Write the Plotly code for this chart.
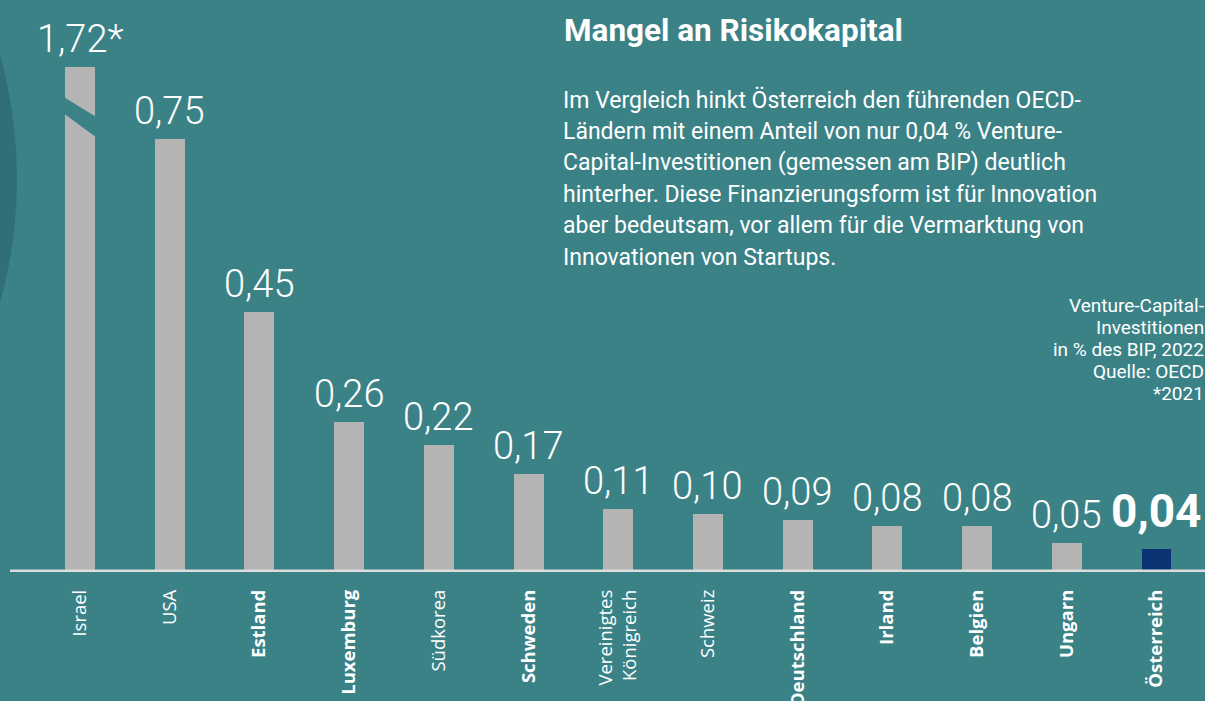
import plotly.graph_objects as go

# ---- data ----
countries = ["Israel", "USA", "Estland", "Luxemburg", "Südkorea", "Schweden",
             "Vereinigtes Königreich", "Schweiz", "Deutschland", "Irland",
             "Belgien", "Ungarn", "Österreich"]
tick_labels = ["Israel", "USA", "<b>Estland</b>", "<b>Luxemburg</b>", "Südkorea",
               "<b>Schweden</b>", "Vereinigtes<br>Königreich", "Schweiz",
               "<b>Deutschland</b>", "<b>Irland</b>", "<b>Belgien</b>",
               "<b>Ungarn</b>", "<b>Österreich</b>"]
values = [1.72, 0.75, 0.45, 0.26, 0.22, 0.17, 0.11, 0.10, 0.09, 0.08, 0.08, 0.05, 0.04]
value_labels = ["1,72*", "0,75", "0,45", "0,26", "0,22", "0,17", "0,11", "0,10",
                "0,09", "0,08", "0,08", "0,05", "0,04"]
highlight = "Österreich"

title_text = "Mangel an Risikokapital"
body_lines = [
    "Im Vergleich hinkt Österreich den führenden OECD-",
    "Ländern mit einem Anteil von nur 0,04 % Venture-",
    "Capital-Investitionen (gemessen am BIP) deutlich",
    "hinterher. Diese Finanzierungsform ist für Innovation",
    "aber bedeutsam, vor allem für die Vermarktung von",
    "Innovationen von Startups.",
]
note_lines = ["Venture-Capital-", "Investitionen", "in % des BIP, 2022",
              "Quelle: OECD", "*2021"]

# ---- style / layout constants ----
W, H = 1205, 701
PLOT_BOTTOM_PX = 572
PX_PER_UNIT = 577.0
AXIS_CAP = 0.875           # broken-axis cap for the outlier bar
BG = "#3b8287"
CIRCLE = "#306f75"
BAR_GREY = "#b4b4b4"
BAR_HI = "#0b3272"
BASE = "#dcdcdc"
BAR_WIDTH = 0.334

display_vals = [min(v, AXIS_CAP) for v in values]
colors = [BAR_HI if c == highlight else BAR_GREY for c in countries]
idx = list(range(len(countries)))

fig = go.Figure()
fig.add_trace(go.Bar(
    x=idx, y=display_vals, marker=dict(color=colors, line=dict(width=0)),
    width=BAR_WIDTH, hoverinfo="skip", showlegend=False,
))

# value labels
annotations = []
for i, (c, v, lab) in enumerate(zip(countries, display_vals, value_labels)):
    if c == highlight:
        annotations.append(dict(x=i, y=v, xref="x", yref="y", text="<b>" + lab + "</b>",
                                showarrow=False, yanchor="bottom", yshift=9,
                                font=dict(family="Roboto", size=46, color="white")))
    else:
        annotations.append(dict(x=i, y=v, xref="x", yref="y", text=lab,
                                showarrow=False, yanchor="bottom", yshift=4,
                                font=dict(family="Roboto", size=38, color="white", weight=300)))

def py(p):
    return 1 - p / PLOT_BOTTOM_PX

# title + body text
annotations.append(dict(x=562 / W, y=py(31), xref="paper", yref="paper",
                        text="<b>" + title_text + "</b>", showarrow=False,
                        xanchor="left", yanchor="middle",
                        font=dict(family="Roboto", size=31.5, color="white")))
for k, line in enumerate(body_lines):
    annotations.append(dict(x=561 / W, y=py(100 + 31.4 * k), xref="paper", yref="paper",
                            text=line, showarrow=False, xanchor="left", yanchor="middle",
                            font=dict(family="Roboto", size=23, color="white")))
for k, line in enumerate(note_lines):
    annotations.append(dict(x=1205 / W, y=py(305 + 22 * k), xref="paper", yref="paper",
                            text=line, showarrow=False, xanchor="right", yanchor="middle",
                            align="right", borderpad=0,
                            font=dict(family="Roboto", size=19, color="white")))

# shapes: background circle, axis break, baseline
hw = BAR_WIDTH / 2
i0 = countries.index("Israel")
brk_top_l, brk_bot_l = 0.823, 0.794
brk_top_r, brk_bot_r = 0.789, 0.754
shapes = [
    dict(type="circle", xref="paper", yref="paper", layer="below",
         x0=-905 / W, x1=17 / W, y0=py(640), y1=py(-282),
         fillcolor=CIRCLE, line=dict(width=0)),
    dict(type="path", xref="x", yref="y", layer="above",
         path=(f"M {i0 - hw - 0.01},{brk_top_l} L {i0 + hw + 0.01},{brk_top_r} "
               f"L {i0 + hw + 0.01},{brk_bot_r} L {i0 - hw - 0.01},{brk_bot_l} Z"),
         fillcolor=BG, line=dict(width=0)),
    dict(type="line", xref="paper", yref="y", x0=10 / W, x1=1, y0=0, y1=0,
         line=dict(color=BASE, width=5), layer="above"),
]

step = 89.71
x_left = -80 / step
x_right = (len(countries) - 1) + (W - 1156.5) / step

fig.update_layout(
    template="none",
    width=W, height=H,
    margin=dict(l=0, r=0, t=0, b=H - PLOT_BOTTOM_PX, pad=0),
    paper_bgcolor=BG, plot_bgcolor=BG,
    showlegend=False,
    annotations=annotations,
    shapes=shapes,
    bargap=0,
    xaxis=dict(range=[x_left, x_right], tickmode="array", tickvals=idx, ticktext=tick_labels,
               tickangle=-90, showgrid=False, zeroline=False, showline=False,
               ticks="", ticklabelstandoff=13, automargin=False,
               tickfont=dict(family="Open Sans", size=18.5, color="white")),
    yaxis=dict(range=[0, PLOT_BOTTOM_PX / PX_PER_UNIT], visible=False, showgrid=False,
               zeroline=False, automargin=False, fixedrange=True),
)

fig.write_html("out.html", config={"displayModeBar": False},
               post_script="document.body.style.margin='0';document.body.style.overflow='hidden';")
